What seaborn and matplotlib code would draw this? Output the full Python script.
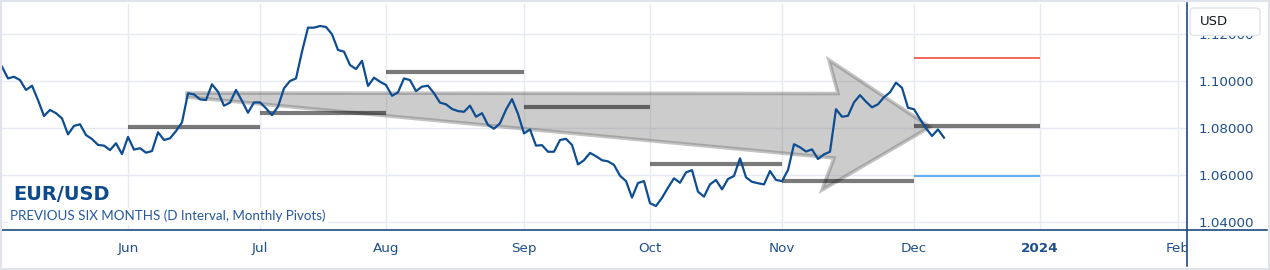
import numpy as np
import pandas as pd
import matplotlib
matplotlib.use("Agg")
import matplotlib.pyplot as plt
import seaborn as sns
from matplotlib.patches import Polygon, FancyBboxPatch, Rectangle
from matplotlib.lines import Line2D
from matplotlib.transforms import Bbox, TransformedBbox, IdentityTransform

# ---------------- data ----------------
start_date = "2023-05-03"
close = [
    1.1061, 1.1011, 1.1018, 1.1004, 1.0962, 1.0980, 1.0919, 1.0851, 1.0877, 1.0863,
    1.0841, 1.0773, 1.0809, 1.0816, 1.0770, 1.0753, 1.0728, 1.0725, 1.0706, 1.0735,
    1.0689, 1.0762, 1.0708, 1.0714, 1.0695, 1.0702, 1.0782, 1.0749, 1.0756, 1.0787,
    1.0824, 1.0948, 1.0943, 1.0922, 1.0919, 1.0986, 1.0954, 1.0895, 1.0908, 1.0962,
    1.0915, 1.0865, 1.0909, 1.0909, 1.0884, 1.0855, 1.0891, 1.0969, 1.1000, 1.1011,
    1.1125, 1.1227, 1.1227, 1.1234, 1.1230, 1.1199, 1.1132, 1.1125, 1.1068, 1.1051,
    1.1086, 1.0979, 1.1014, 1.0997, 1.0983, 1.0937, 1.0952, 1.1011, 1.1004, 1.0957,
    1.0976, 1.0980, 1.0948, 1.0908, 1.0901, 1.0881, 1.0872, 1.0869, 1.0895, 1.0848,
    1.0863, 1.0813, 1.0797, 1.0820, 1.0878, 1.0923, 1.0860, 1.0777, 1.0794, 1.0725,
    1.0727, 1.0699, 1.0699, 1.0749, 1.0754, 1.0728, 1.0645, 1.0663, 1.0694, 1.0680,
    1.0663, 1.0658, 1.0643, 1.0597, 1.0574, 1.0504, 1.0566, 1.0574, 1.0480, 1.0468,
    1.0503, 1.0546, 1.0586, 1.0567, 1.0611, 1.0621, 1.0529, 1.0508, 1.0560, 1.0579,
    1.0539, 1.0583, 1.0596, 1.0671, 1.0590, 1.0571, 1.0565, 1.0560, 1.0617, 1.0579,
    1.0574, 1.0621, 1.0731, 1.0718, 1.0700, 1.0709, 1.0668, 1.0688, 1.0699, 1.0880,
    1.0848, 1.0852, 1.0909, 1.0940, 1.0912, 1.0888, 1.0901, 1.0931, 1.0952, 1.0993,
    1.0971, 1.0886, 1.0880, 1.0838, 1.0799, 1.0766, 1.0794, 1.0759,
]

pivot_months = ["2023-06", "2023-07", "2023-08", "2023-09", "2023-10", "2023-11", "2023-12"]
pivot_values = [1.0806, 1.0862, 1.1037, 1.0891, 1.0648, 1.0573, 1.0807]
r1_month, r1_value = "2023-12", 1.1097
s1_month, s1_value = "2023-12", 1.0597

tick_months = ["2023-06", "2023-07", "2023-08", "2023-09", "2023-10",
               "2023-11", "2023-12", "2024-01", "2024-02"]
tick_labels = ["Jun", "Jul", "Aug", "Sep", "Oct", "Nov", "Dec", "2024", "Feb"]
price_ticks = [1.04, 1.06, 1.08, 1.10, 1.12]

# arrow drawing (bar index, price)
arrow_x = [32.83, 141.33, 139.83, 156.67, 138.67, 140.67, 32.83]
arrow_y = [1.09489, 1.09468, 1.10894, 1.08043, 1.05362, 1.06723, 1.09319]

title = "EUR/USD"
subtitle = "PREVIOUS SIX MONTHS (D Interval, Monthly Pivots)"

# ---------------- bar index scale ----------------
axis_days = pd.bdate_range("2023-05-01", "2024-03-29")
pos = {d: i for i, d in enumerate(axis_days)}
first_of_month = axis_days.to_series().groupby(axis_days.to_period("M")).first()


def month_start(m):
    return pos[first_of_month[pd.Period(m, "M")]]


def month_end(m):
    return month_start(str(pd.Period(m, "M") + 1))


dates = pd.bdate_range(start_date, periods=len(close))
df = pd.DataFrame({"x": [pos[d] for d in dates], "close": close})

# ---------------- figure ----------------
W, H = 1270, 270
fig = plt.figure(figsize=(W / 100, H / 100), dpi=100)
fig.patch.set_facecolor("white")
ax_l, ax_r, ax_t, ax_b = 2, 1187, 4, 230
ax = fig.add_axes([ax_l / W, (H - ax_b) / H, (ax_r - ax_l) / W, (ax_b - ax_t) / H])
ax.set_facecolor("white")

navy = "#1d4a80"
label_col = "#1f4f8c"
grid_col = "#e6eaf2"

ax.set_xlim(2.0, 199.5)
ax.set_ylim(1.0366, 1.13277)

ax.set_xticks([month_start(m) for m in tick_months])
ax.set_xticklabels(tick_labels)
ax.set_yticks(price_ticks)
ax.set_yticklabels([f"{v:.5f}" for v in price_ticks])
ax.yaxis.tick_right()
ax.tick_params(axis="both", length=0, colors=label_col, labelsize=9.7)
ax.tick_params(axis="x", pad=8.5)
ax.tick_params(axis="y", pad=8)
for lab in ax.get_xticklabels():
    if lab.get_text() == "2024":
        lab.set_fontweight("bold")
ax.grid(True, color=grid_col, lw=1.0, zorder=0)
ax.set_axisbelow(True)
for s in ax.spines.values():
    s.set_visible(False)

# clip month labels at the price scale
clipbox = TransformedBbox(Bbox.from_extents(0, 0, ax_r, H), IdentityTransform())
for tk in ax.xaxis.get_major_ticks():
    tk.label1.set_clip_on(True)
    tk.label1.set_clip_box(clipbox)

# arrow drawing
arrow = Polygon(np.column_stack([arrow_x, arrow_y]), closed=True,
                facecolor=(0.5, 0.5, 0.5, 0.40), edgecolor=(0.42, 0.42, 0.42, 0.40),
                lw=2.6, joinstyle="miter", zorder=2)
ax.add_patch(arrow)

# monthly pivots
for m, v in zip(pivot_months, pivot_values):
    ax.hlines(v, month_start(m), month_end(m), colors=(0, 0, 0, 0.52), lw=3.0, zorder=3)
ax.hlines(r1_value, month_start(r1_month), month_end(r1_month), colors="#f23d2a", lw=1.1, zorder=3)
ax.hlines(s1_value, month_start(s1_month), month_end(s1_month), colors="#64b0f0", lw=1.6, zorder=3)

# price line
sns.lineplot(data=df, x="x", y="close", ax=ax, color="#0e4d92", lw=1.6, zorder=4)
ax.set_xlabel("")
ax.set_ylabel("")

# texts
t1 = ax.text((13.5 - ax_l) / (ax_r - ax_l), (ax_b - 200) / (ax_b - ax_t), title,
             transform=ax.transAxes, fontsize=14.5, fontweight="bold", color="#0d4a8c",
             family="DejaVu Sans", va="baseline", ha="left", zorder=6)
t2 = ax.text((10 - ax_l) / (ax_r - ax_l), (ax_b - 220.5) / (ax_b - ax_t), subtitle,
             transform=ax.transAxes, fontsize=10, color="#2458a0", family="Lato",
             va="baseline", ha="left", zorder=6,
             bbox=dict(facecolor="white", edgecolor="none", pad=1.5))
fig.canvas.draw()
r = fig.canvas.get_renderer()
for t, target in ((t1, 97.0), (t2, 315.0)):
    w = t.get_window_extent(renderer=r).width
    t.set_fontsize(t.get_fontsize() * target / w)

# frame and scale lines
fig.add_artist(Rectangle((0, 0), 1, 1, transform=fig.transFigure, fill=False,
                         edgecolor="#e0e3eb", lw=3.0, zorder=10))
fig.add_artist(Line2D([0, (W - 3) / W], [(H - ax_b) / H] * 2, transform=fig.transFigure,
                      color=navy, lw=1.2, zorder=9))
fig.add_artist(Line2D([ax_r / W] * 2, [4 / H, (H - 3) / H], transform=fig.transFigure,
                      color=navy, lw=1.2, zorder=9))

# USD box
box = FancyBboxPatch((1190, H - 35.5), 70, 27.5, boxstyle="round,pad=0,rounding_size=4",
                     transform=IdentityTransform(), facecolor="white",
                     edgecolor="#e0e3eb", lw=1.0, zorder=11)
fig.add_artist(box)
fig.text(1200 / W, (H - 21.5) / H, "USD", fontsize=9.5, color="#131722",
         va="center", ha="left", zorder=12)

fig.savefig("out.png", dpi=100, facecolor="white")
